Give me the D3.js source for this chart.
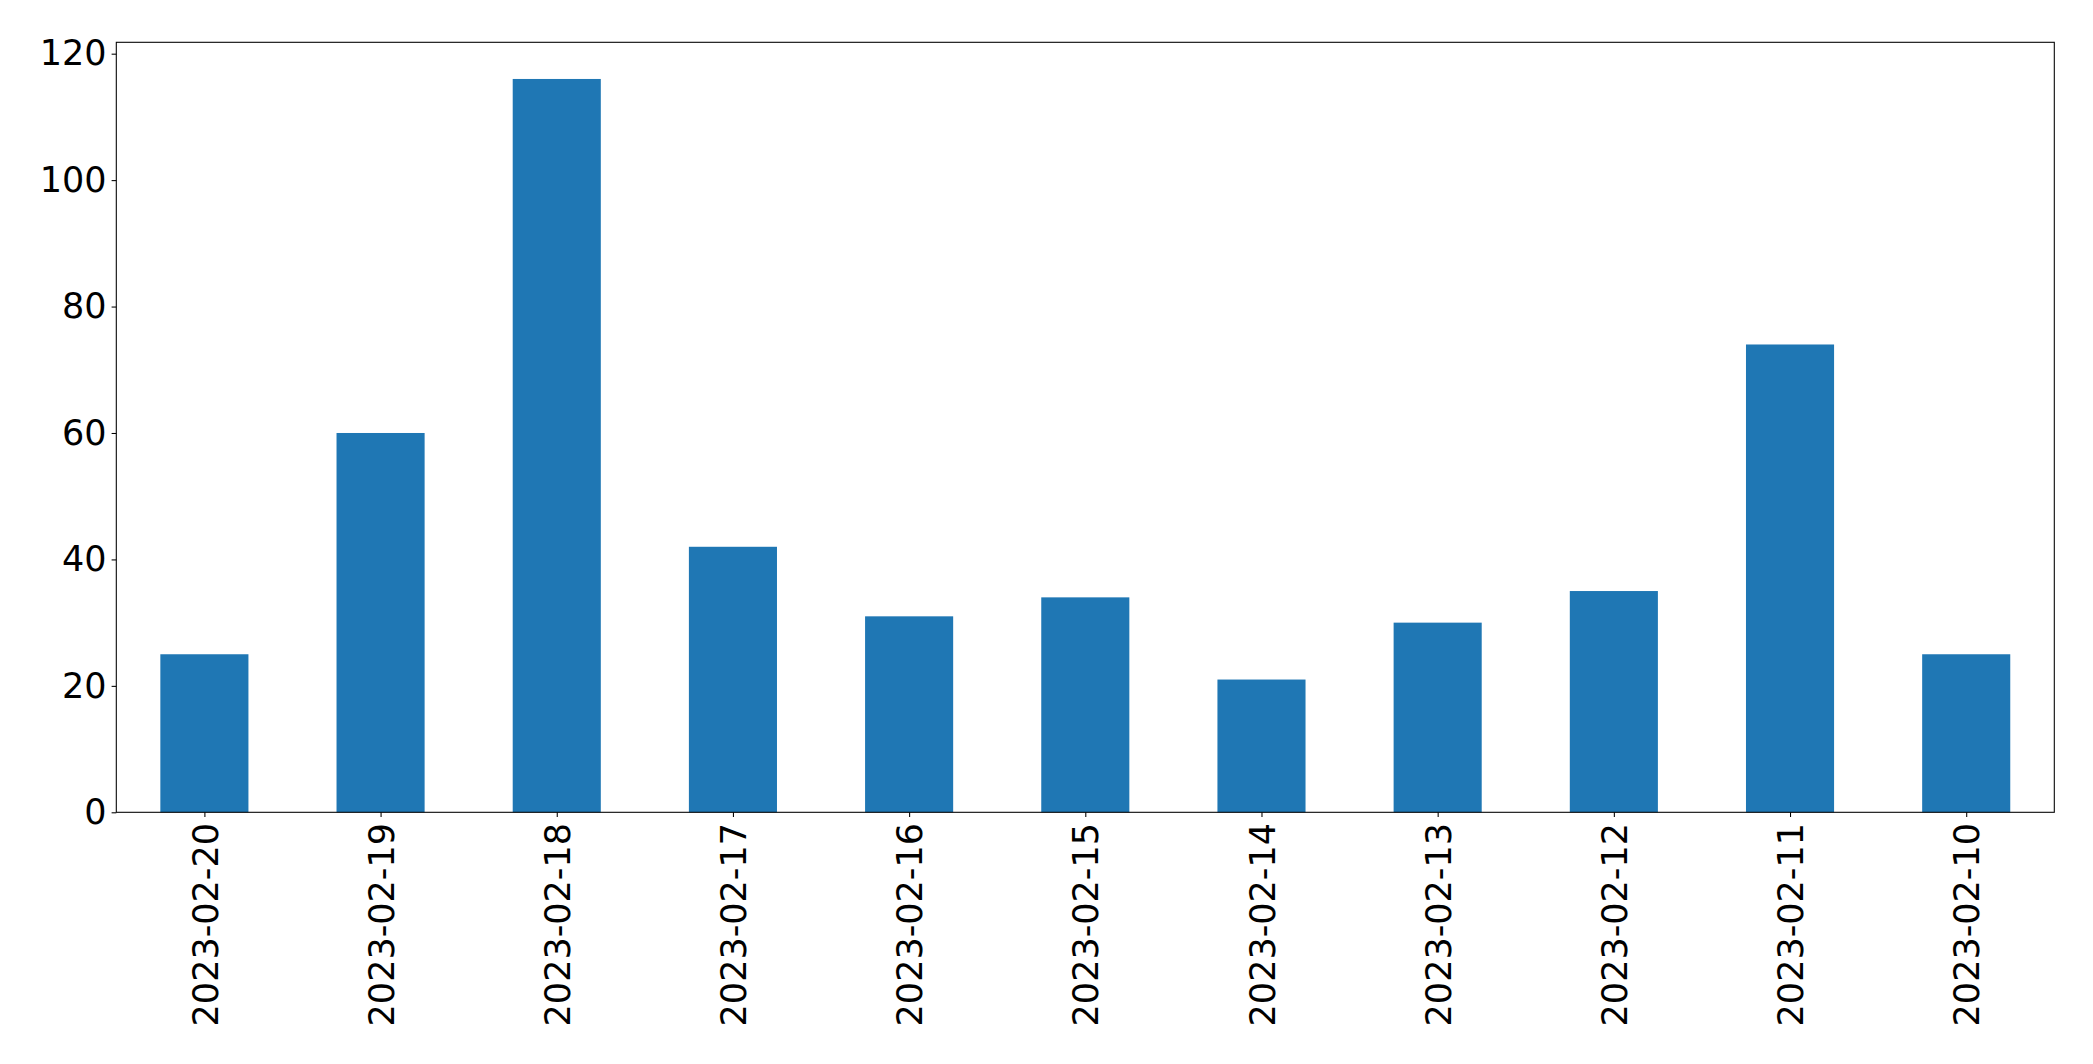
<!DOCTYPE html>
<html><head><meta charset="utf-8">
<script src="https://cdn.jsdelivr.net/npm/d3@7"></script>
<style>html,body{margin:0;padding:0;background:#fff;}svg{display:block;}</style>
</head><body>
<svg id="chart" width="2093" height="1064"></svg>
<script>
const categories = ["2023-02-20","2023-02-19","2023-02-18","2023-02-17","2023-02-16","2023-02-15","2023-02-14","2023-02-13","2023-02-12","2023-02-11","2023-02-10"];
const values = [25, 60, 116, 42, 31, 34, 21, 30, 35, 74, 25];
const yTicks = [0, 20, 40, 60, 80, 100, 120];

const margin = {left: 116.3, top: 42.3, right: 2093 - 2054.3, bottom: 1064 - 812.3};
const W = 2093, H = 1064;
const iw = W - margin.left - margin.right, ih = H - margin.top - margin.bottom;
const svg = d3.select("#chart");
const g = svg.append("g").attr("transform", `translate(${margin.left},${margin.top})`);

const x = d3.scaleLinear().domain([-0.5, categories.length - 0.5]).range([0, iw]);
const y = d3.scaleLinear().domain([0, d3.max(values) * 1.05]).range([ih, 0]);
const bw = 0.5;

g.selectAll("rect.bar").data(values).enter().append("rect")
  .attr("x", (d, i) => x(i - bw / 2))
  .attr("width", (d, i) => x(i + bw / 2) - x(i - bw / 2))
  .attr("y", d => y(d))
  .attr("height", d => y(0) - y(d))
  .attr("fill", "#1f77b4");

const font = "DejaVu Sans, sans-serif";
const tickLen = 4.7;

// Y axis
const ya = g.append("g").call(d3.axisLeft(y).tickValues(yTicks).tickSize(tickLen).tickPadding(5).tickFormat(d3.format("d")));
ya.select(".domain").remove();
ya.selectAll("line").attr("stroke", "#000").attr("stroke-width", 1.07);
ya.selectAll("text").attr("font-family", font).attr("font-size", 35).attr("fill", "#000");

// X axis
const xa = g.append("g").attr("transform", `translate(0,${ih})`)
  .call(d3.axisBottom(x).tickValues(d3.range(categories.length)).tickSize(tickLen).tickFormat(i => categories[i]));
xa.select(".domain").remove();
xa.selectAll("line").attr("stroke", "#000").attr("stroke-width", 1.07);
xa.selectAll("text")
  .attr("font-family", font).attr("font-size", 35).attr("fill", "#000")
  .attr("text-anchor", "end")
  .attr("transform", "rotate(-90)")
  .attr("x", -(tickLen + 6)).attr("y", 0).attr("dy", "0.36em");

// Frame
g.append("rect").attr("x", 0).attr("y", 0).attr("width", iw).attr("height", ih)
  .attr("fill", "none").attr("stroke", "#000").attr("stroke-width", 1.07);
</script>
</body></html>
